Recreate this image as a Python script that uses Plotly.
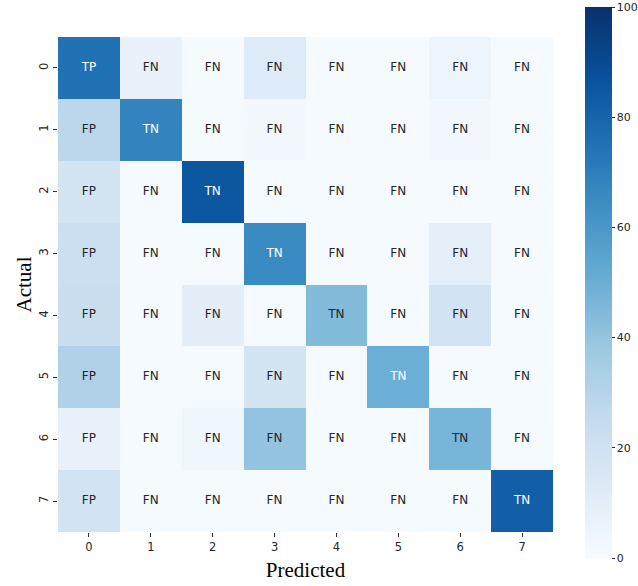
import plotly.graph_objects as go

classes = [0, 1, 2, 3, 4, 5, 6, 7]
tick_labels = ["0", "1", "2", "3", "4", "5", "6", "7"]
values = [
    [75, 7, 1, 13, 1, 1, 5, 1],
    [28, 68, 1, 2, 1, 1, 2, 1],
    [18, 1, 85, 1, 1, 1, 1, 1],
    [22, 1, 1, 65, 1, 1, 9, 1],
    [23, 1, 10, 1, 44, 1, 19, 1],
    [32, 1, 1, 18, 1, 50, 1, 1],
    [7, 1, 4, 40, 1, 1, 47, 1],
    [19, 1, 1, 1, 1, 1, 1, 82],
]
labels = [
    ["TP", "FN", "FN", "FN", "FN", "FN", "FN", "FN"],
    ["FP", "TN", "FN", "FN", "FN", "FN", "FN", "FN"],
    ["FP", "FN", "TN", "FN", "FN", "FN", "FN", "FN"],
    ["FP", "FN", "FN", "TN", "FN", "FN", "FN", "FN"],
    ["FP", "FN", "FN", "FN", "TN", "FN", "FN", "FN"],
    ["FP", "FN", "FN", "FN", "FN", "TN", "FN", "FN"],
    ["FP", "FN", "FN", "FN", "FN", "FN", "TN", "FN"],
    ["FP", "FN", "FN", "FN", "FN", "FN", "FN", "TN"],
]
cbar_ticks = [0, 20, 40, 60, 80, 100]

fig = go.Figure()
fig.add_trace(go.Heatmap(
    z=values, x=classes, y=classes,
    colorscale="Blues", zmin=0, zmax=100,
    hoverinfo="skip",
    colorbar=dict(
        thickness=27, thicknessmode="pixels",
        len=551, lenmode="pixels",
        x=1.0646, xanchor="left", y=0.504, yanchor="middle",
        xpad=0, ypad=0,
        outlinewidth=0,
        tickvals=cbar_ticks, ticks="outside", ticklen=3, tickwidth=1,
        tickcolor="#333333",
        tickfont=dict(family="DejaVu Sans", size=11, color="#262626"),
    ),
))

# annotation text, white on dark cells, dark on light cells
lx, ly, lt, dx, dy, dt = [], [], [], [], [], []
for i, row in enumerate(values):
    for j, v in enumerate(row):
        if v >= 49:
            lx.append(classes[j]); ly.append(classes[i]); lt.append(labels[i][j])
        else:
            dx.append(classes[j]); dy.append(classes[i]); dt.append(labels[i][j])

fig.add_trace(go.Scatter(x=lx, y=ly, text=lt, mode="text", hoverinfo="skip",
                         textfont=dict(family="DejaVu Sans", size=12, color="white"),
                         showlegend=False))
fig.add_trace(go.Scatter(x=dx, y=dy, text=dt, mode="text", hoverinfo="skip",
                         textfont=dict(family="DejaVu Sans", size=12, color="#262626"),
                         showlegend=False))

fig.update_layout(
    width=638, height=586,
    margin=dict(l=58, r=85, t=37, b=54, autoexpand=False),
    plot_bgcolor="white", paper_bgcolor="white",
    showlegend=False,
    xaxis=dict(
        range=[-0.5, 7.5], tickvals=classes, ticktext=tick_labels,
        showgrid=False, zeroline=False, showline=False,
        ticks="outside", ticklen=4, tickcolor="#333333",
        tickfont=dict(family="DejaVu Sans", size=11.5, color="#262626"),
        title=dict(text="Predicted", standoff=9,
                   font=dict(family="Liberation Serif", size=21, color="black")),
    ),
    yaxis=dict(
        range=[7.5, -0.5], tickvals=classes, ticktext=tick_labels,
        showgrid=False, zeroline=False, showline=False,
        ticks="outside", ticklen=4, tickcolor="#333333", tickangle=-90,
        tickfont=dict(family="DejaVu Sans", size=11.5, color="#262626"),
        title=dict(text="Actual", standoff=0,
                   font=dict(family="Liberation Serif", size=21, color="black")),
    ),
)

fig.write_html("out.html",
               config={"displayModeBar": False},
               post_script="document.body.style.margin='0';document.body.style.overflow='hidden';")
